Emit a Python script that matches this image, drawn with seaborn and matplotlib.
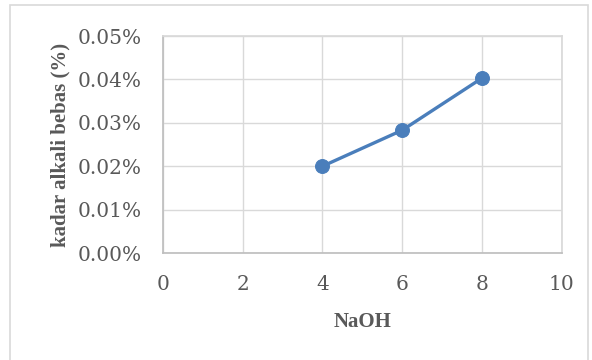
import matplotlib
matplotlib.use("Agg")
import matplotlib.pyplot as plt
import seaborn as sns
import pandas as pd
from matplotlib.ticker import FuncFormatter, MultipleLocator
from matplotlib.patches import Rectangle

naoh = [4, 6, 8]
kadar = [0.0200, 0.0283, 0.0403]
x_label = "NaOH"
y_label = "kadar alkali bebas (%)"

df = pd.DataFrame({"NaOH": naoh, "kadar": kadar})

sns.set_theme(style="whitegrid")
plt.rcParams['font.family'] = ['DejaVu Serif']

fig = plt.figure(figsize=(5.92, 3.6), dpi=100)
ax = fig.add_axes([0.275, 0.297, 0.674, 0.603])

sns.lineplot(data=df, x="NaOH", y="kadar", ax=ax, color="#4A7EBB", linewidth=2.4,
             marker="o", markersize=10, markeredgecolor="#4A7EBB")

ax.set_xlim(0, 10)
ax.set_ylim(0, 0.05)
ax.xaxis.set_major_locator(MultipleLocator(2))
ax.yaxis.set_major_locator(MultipleLocator(0.01))
ax.yaxis.set_major_formatter(FuncFormatter(lambda v, p: f"{v:.2f}%"))
ax.grid(True, color="#d9d9d9", linewidth=1)
for s in ["top", "right"]:
    ax.spines[s].set_visible(True)
    ax.spines[s].set_color("#d9d9d9")
for s in ["left", "bottom"]:
    ax.spines[s].set_color("#bfbfbf")
ax.tick_params(axis="y", labelsize=14.5, colors="#595959", length=0, pad=15)
ax.tick_params(axis="x", labelsize=14.5, colors="#595959", length=0, pad=16)

ax.set_xlabel(x_label, fontsize=15, fontweight="bold", color="#595959",
              family="Liberation Serif", labelpad=13)
ax.set_ylabel(y_label, fontsize=15, fontweight="bold", color="#595959",
              family="Liberation Serif", labelpad=5)

fig.patches.append(Rectangle((10/592, -0.05), 578/592, 1 - 5/360 + 0.05,
                             transform=fig.transFigure, fill=False,
                             edgecolor="#d9d9d9", linewidth=1.2))

fig.savefig("out.png", dpi=100)
